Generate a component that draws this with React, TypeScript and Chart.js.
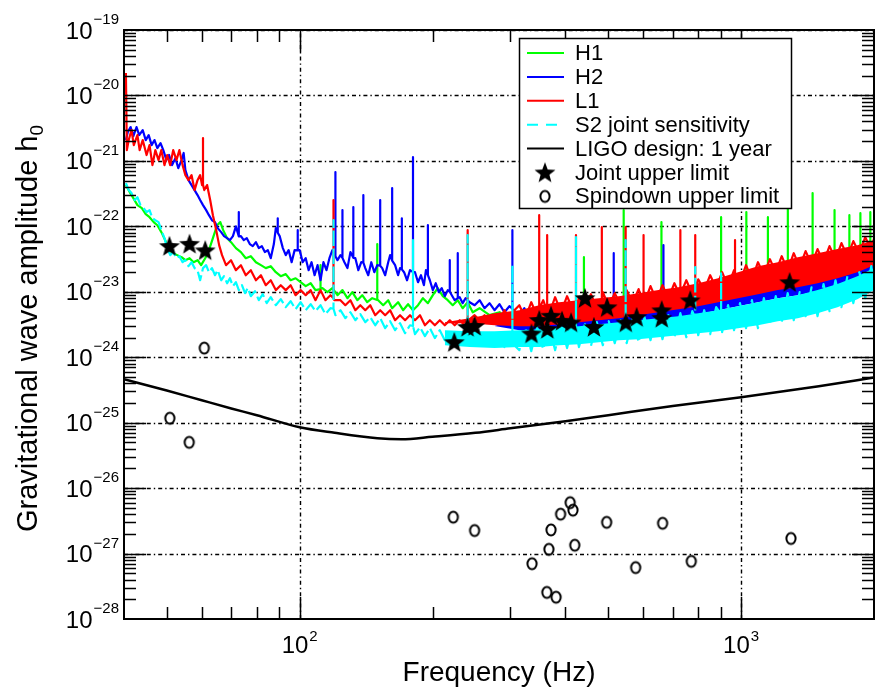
import React, { useEffect, useRef } from 'react';
import { Chart, registerables } from 'chart.js';

Chart.register(...registerables);

type P = [number, number];
type S = [number, number, number]; // [frequency, base, peak]

const FREQ_MIN = 40;
const FREQ_MAX = 2000;
const H_MIN = 1e-28;
const H_MAX = 1e-19;
const X_LABEL_DECADES: [number, string][] = [[100, '2'], [1000, '3']];
const Y_LABEL_EXPONENTS = [-19, -20, -21, -22, -23, -24, -25, -26, -27, -28];
const X_TITLE = 'Frequency (Hz)';
const Y_TITLE = 'Gravitational wave amplitude h';
const Y_TITLE_SUB = '0';
const LEGEND_LABELS = ['H1', 'H2', 'L1', 'S2 joint sensitivity', 'LIGO design: 1 year', 'Joint upper limit', 'Spindown upper limit'];

// ---------- H1 (green) ----------
const h1Base: P[] = [
  [40.4, 4.27e-22], [41.2, 3.34e-22], [42.0, 2.70e-22], [42.9, 2.11e-22], [43.9, 1.90e-22], [44.8, 1.53e-22],
  [45.7, 1.38e-22], [46.7, 1.16e-22], [47.6, 1.04e-22], [48.6, 8.16e-23], [49.6, 6.15e-23], [50.6, 4.33e-23],
  [51.7, 3.89e-23], [52.8, 3.63e-23], [54.0, 3.38e-23], [55.1, 3.04e-23], [56.3, 3.26e-23], [57.5, 2.83e-23],
  [58.7, 3.04e-23], [59.8, 2.55e-23], [61.1, 3.26e-23], [62.3, 4.33e-23], [63.6, 6.6e-23], [65.0, 1.04e-22],
  [66.1, 1.16e-22], [67.1, 8.75e-23], [68.5, 6.6e-23], [69.9, 5.73e-23], [71.7, 4.65e-23], [73.6, 4.04e-23],
  [75.5, 3.26e-23], [77.5, 3.50e-23], [79.6, 2.83e-23], [81.7, 2.55e-23], [83.8, 2.30e-23], [86.0, 2.46e-23],
  [88.3, 1.99e-23], [90.6, 1.73e-23], [93.0, 1.86e-23], [95.4, 1.50e-23], [97.9, 1.61e-23], [100.5, 1.40e-23],
  [103.2, 1.22e-23], [105.9, 1.35e-23], [108.6, 1.06e-23], [112.6, 1.14e-23], [115.6, 9.88e-24], [118.6, 1.14e-23],
  [121.8, 8.87e-24], [125.0, 1.06e-23], [128.3, 7.98e-24], [131.6, 9.88e-24], [135.1, 7.44e-24], [138.6, 8.87e-24],
  [142.2, 6.93e-24], [146.0, 7.98e-24], [150.6, 7.44e-24], [154.6, 6.24e-24], [158.7, 7.44e-24], [162.0, 5.61e-24],
  [167.1, 6.93e-24], [171.5, 5.23e-24], [176.0, 6.46e-24], [180.6, 5.23e-24], [185.4, 6.24e-24], [190.2, 7.98e-24],
  [195.2, 6.70e-24], [200.3, 8.87e-24], [205.5, 1.14e-23], [211.0, 8.56e-24], [216.5, 7.44e-24], [222.2, 6.24e-24],
  [228.1, 7.44e-24], [234.0, 5.61e-24], [240.2, 6.93e-24], [246.6, 4.87e-24], [255.6, 5.61e-24], [269.2, 4.39e-24],
  [283.5, 4.87e-24], [298.6, 3.68e-24], [314.5, 3.95e-24], [331.2, 3.08e-24], [358.0, 3.43e-24], [386.9, 2.87e-24],
  [418.2, 3.19e-24], [442.8, 2.97e-24], [476.1, 3.43e-24], [506.7, 3.19e-24], [544.8, 3.43e-24], [585.8, 3.68e-24],
  [623.4, 3.95e-24], [663.5, 4.24e-24], [720.8, 4.87e-24], [779.1, 5.23e-24], [842.1, 6.02e-24], [905.6, 6.46e-24],
  [958.8, 6.93e-24], [1031, 7.44e-24], [1092, 8.26e-24], [1156, 8.56e-24], [1211, 9.19e-24], [1283, 9.88e-24],
  [1365, 1.06e-23], [1460, 1.22e-23], [1538, 1.40e-23], [1636, 1.50e-23], [1697, 1.61e-23], [1768, 1.73e-23],
  [1873, 1.99e-23], [1972, 2.14e-23], [2000, 2.2e-23],
];
const h1Spikes: S[] = [
  [111.5, 1.1e-23, 2.55e-23], [149.9, 7.5e-24, 5.35e-23], [440.5, 3.2e-24, 3.38e-23], [542.0, 3.4e-24, 1.77e-22],
  [660.0, 4.2e-24, 1.16e-22], [900.9, 6.4e-24, 1.38e-22], [1026, 7.4e-24, 1.65e-22], [1150, 8.5e-24, 1.38e-22],
  [1276, 9.8e-24, 1.90e-22], [1452, 1.2e-23, 3.22e-22], [1628, 1.5e-23, 1.77e-22], [1759, 1.7e-23, 1.48e-22],
  [1863, 1.9e-23, 1.59e-22], [1962, 2.1e-23, 1.65e-22],
];

// ---------- H2 (blue) ----------
const h2Base: P[] = [
  [40.4, 2.08e-21], [40.8, 2.76e-21], [41.4, 3.29e-21], [42.0, 2.39e-21], [42.7, 3.29e-21], [43.3, 2.48e-21],
  [44.1, 2.96e-21], [44.8, 2.08e-21], [45.5, 2.48e-21], [46.2, 1.74e-21], [46.9, 2.08e-21], [47.6, 1.57e-21],
  [48.4, 1.87e-21], [49.1, 1.46e-21], [49.9, 1.03e-21], [50.6, 1.23e-21], [51.4, 8.62e-22], [52.3, 1.10e-21],
  [53.1, 7.76e-22], [54.0, 1.03e-21], [54.6, 1.32e-21], [55.1, 7.23e-22], [56.0, 5.08e-22], [56.9, 4.27e-22],
  [57.8, 3.58e-22], [58.7, 3.00e-22], [59.5, 2.52e-22], [60.4, 2.11e-22], [61.4, 1.77e-22], [62.3, 1.48e-22],
  [63.3, 1.24e-22], [64.3, 1.16e-22], [65.2, 9.39e-23], [66.4, 8.16e-23], [67.4, 7.09e-23], [68.5, 6.6e-23],
  [69.5, 6.15e-23], [70.6, 7.09e-23], [71.7, 1.00e-22], [73.6, 7.09e-23], [74.7, 6.15e-23], [75.9, 6.6e-23],
  [77.1, 5.35e-23], [78.3, 4.98e-23], [79.6, 5.73e-23], [80.8, 4.65e-23], [82.1, 4.98e-23], [83.4, 4.04e-23],
  [84.7, 4.33e-23], [86.0, 3.26e-23], [87.4, 5.35e-23], [88.3, 9.39e-23], [90.1, 7.09e-23], [91.6, 4.65e-23],
  [93.0, 3.63e-23], [94.4, 4.33e-23], [95.9, 2.83e-23], [97.4, 4.33e-23], [100, 4.33e-23], [101.6, 2.83e-23],
  [103.2, 3.26e-23], [104.8, 2.14e-23], [106.4, 2.83e-23], [108.1, 1.79e-23], [109.8, 2.55e-23], [111.5, 1.50e-23],
  [113.2, 2.83e-23], [115.0, 2.14e-23], [116.8, 3.26e-23], [118.6, 4.33e-23], [121.8, 3.04e-23], [123.7, 3.63e-23],
  [126.3, 2.83e-23], [128.3, 2.30e-23], [130.3, 4.04e-23], [133.7, 3.26e-23], [135.8, 2.14e-23], [137.9, 2.83e-23],
  [140.8, 2.30e-23], [143.0, 1.79e-23], [145.3, 2.83e-23], [147.6, 1.99e-23], [149.9, 2.55e-23], [153.8, 2.30e-23],
  [156.2, 1.79e-23], [158.7, 2.83e-23], [160.3, 3.63e-23], [164.5, 2.55e-23], [167.1, 1.79e-23], [168.8, 2.30e-23],
  [172.4, 1.99e-23], [175.1, 1.50e-23], [177.8, 2.14e-23], [182.5, 1.99e-23], [185.4, 1.40e-23], [188.3, 1.79e-23],
  [191.2, 1.26e-23], [193.2, 2.14e-23], [197.2, 1.50e-23], [200.3, 1.06e-23], [203.4, 1.35e-23], [206.6, 9.88e-24],
  [209.8, 1.14e-23], [213.2, 8.56e-24], [216.5, 1.06e-23], [221.1, 8.87e-24], [224.5, 7.44e-24], [230.4, 8.26e-24],
  [234.0, 6.70e-24], [237.7, 7.98e-24], [242.7, 6.93e-24], [249.1, 6.24e-24], [255.6, 7.44e-24], [262.3, 5.61e-24],
  [269.2, 6.70e-24], [276.3, 5.23e-24], [283.5, 6.46e-24], [291.0, 4.87e-24], [298.6, 6.02e-24], [304.9, 5.23e-24],
  [314.5, 4.39e-24], [322.8, 5.61e-24], [331.2, 3.95e-24], [339.9, 4.87e-24], [348.8, 3.43e-24], [367.4, 3.95e-24],
  [386.9, 2.97e-24], [407.5, 3.68e-24], [429.2, 2.78e-24], [452.0, 3.68e-24], [476.1, 2.97e-24], [501.4, 3.95e-24],
  [517.3, 3.43e-24], [542.0, 4.39e-24], [570.8, 3.68e-24], [601.2, 4.87e-24], [633.2, 3.95e-24], [670.4, 4.87e-24],
  [702.4, 4.39e-24], [739.8, 6.24e-24], [779.1, 5.23e-24], [820.6, 7.44e-24], [864.3, 6.02e-24], [910.3, 8.56e-24],
  [958.8, 6.93e-24], [1010, 9.88e-24], [1064, 7.98e-24], [1121, 1.14e-23], [1180, 9.19e-24], [1243, 1.31e-23],
  [1309, 1.06e-23], [1379, 1.50e-23], [1452, 1.22e-23], [1530, 1.73e-23], [1611, 1.45e-23], [1697, 1.99e-23],
  [1787, 1.73e-23], [1882, 2.46e-23], [2000, 2.14e-23],
];
const h2Spikes: S[] = [
  [72.8, 7.0e-23, 1.65e-22], [89.2, 8.0e-23, 1.33e-22], [99.0, 4.3e-23, 8.75e-23], [120.5, 3.5e-23, 6.74e-22],
  [125.0, 3.3e-23, 1.77e-22], [132.3, 3.3e-23, 1.97e-22], [139.4, 2.8e-23, 3.00e-22], [152.2, 2.5e-23, 2.52e-22],
  [162.0, 3.0e-23, 3.84e-22], [170.4, 2.2e-23, 1.33e-22], [180.6, 2.0e-23, 1.14e-21], [195.2, 1.8e-23, 1.04e-22],
  [218.8, 1.0e-23, 3.04e-23], [228.1, 8.0e-24, 3.89e-23], [303.3, 5.5e-24, 8.75e-23], [514.6, 3.7e-24, 3.89e-23],
  [666.9, 4.6e-24, 5.16e-23],
];

// ---------- L1 (red) ----------
const l1Base: P[] = [
  [40.4, 2.20e-20], [40.6, 1.46e-21], [41.0, 2.08e-21], [41.6, 2.96e-21], [42.1, 1.74e-21], [42.9, 2.48e-21],
  [43.4, 1.46e-21], [44.1, 2.08e-21], [45.0, 1.23e-21], [45.7, 1.74e-21], [46.4, 8.62e-22], [47.1, 1.46e-21],
  [47.9, 1.03e-21], [48.6, 1.46e-21], [49.4, 8.62e-22], [50.1, 1.23e-21], [50.9, 8.62e-22], [51.7, 1.46e-21],
  [52.6, 1.03e-21], [53.4, 1.46e-21], [54.3, 8.62e-22], [55.1, 6.06e-22], [56.0, 5.08e-22], [56.9, 6.06e-22],
  [57.8, 3.58e-22], [58.7, 5.08e-22], [59.5, 6.06e-22], [60.1, 4.27e-22], [60.8, 3.58e-22], [61.7, 4.27e-22],
  [62.7, 2.52e-22], [63.6, 1.48e-22], [64.7, 8.75e-23], [65.7, 5.16e-23], [66.7, 3.63e-23], [68.1, 2.55e-23],
  [69.9, 3.04e-23], [71.7, 2.14e-23], [73.6, 2.55e-23], [75.5, 1.79e-23], [77.5, 2.14e-23], [79.6, 1.50e-23],
  [81.7, 1.79e-23], [83.8, 1.26e-23], [86.0, 1.50e-23], [88.3, 1.06e-23], [90.6, 1.26e-23], [93.0, 1.06e-23],
  [95.4, 1.26e-23], [97.9, 8.87e-24], [100.5, 1.06e-23], [103.2, 8.87e-24], [105.9, 1.06e-23], [108.6, 7.44e-24],
  [111.5, 1.06e-23], [114.4, 7.44e-24], [117.4, 8.87e-24], [119.8, 7.44e-24], [123.7, 7.44e-24], [126.9, 6.24e-24],
  [130.3, 7.44e-24], [133.7, 5.23e-24], [137.2, 6.24e-24], [140.8, 5.23e-24], [144.5, 6.24e-24], [148.3, 4.39e-24],
  [152.2, 5.23e-24], [156.2, 4.39e-24], [160.3, 5.23e-24], [164.5, 3.68e-24], [168.8, 4.39e-24], [173.3, 3.68e-24],
  [177.8, 4.39e-24], [182.5, 3.68e-24], [187.3, 4.39e-24], [192.2, 3.08e-24], [197.2, 3.68e-24], [202.4, 3.08e-24],
  [207.7, 3.68e-24], [213.2, 3.08e-24], [218.8, 3.68e-24], [224.5, 3.08e-24], [230.4, 3.68e-24], [236.5, 3.08e-24],
  [241.4, 3.68e-24], [249.1, 4.39e-24], [255.6, 3.68e-24], [262.3, 4.39e-24], [269.2, 3.68e-24], [276.3, 4.39e-24],
  [283.5, 3.68e-24], [291.0, 5.23e-24], [298.6, 3.68e-24], [306.5, 5.23e-24],
  [314.5, 6.24e-24], [324.4, 3.95e-24], [334.7, 6.93e-24], [345.3, 4.24e-24], [356.2, 7.44e-24], [367.4, 4.55e-24],
  [379.0, 8.26e-24], [391.0, 4.87e-24], [403.4, 8.56e-24], [416.1, 5.23e-24], [429.2, 8.26e-24], [442.8, 5.42e-24],
  [456.8, 9.19e-24], [471.2, 5.61e-24], [486.1, 9.88e-24], [501.4, 6.02e-24], [517.3, 9.52e-24], [533.6, 6.24e-24],
  [550.5, 1.06e-23], [567.9, 6.70e-24], [585.8, 1.10e-23], [604.3, 6.93e-24], [623.4, 1.22e-23], [643.1, 7.44e-24],
  [663.5, 1.26e-23], [684.4, 7.98e-24], [706.1, 1.35e-23], [728.4, 8.56e-24], [751.4, 1.50e-23], [775.2, 9.19e-24],
  [799.6, 1.55e-23], [824.9, 1.06e-23], [851.0, 1.79e-23], [877.9, 1.14e-23], [905.6, 1.99e-23], [934.2, 1.22e-23],
  [963.8, 2.14e-23], [994.2, 1.40e-23], [1026, 2.55e-23], [1058, 1.55e-23], [1092, 2.83e-23], [1126, 1.79e-23],
  [1162, 3.15e-23], [1198, 1.99e-23], [1236, 3.50e-23], [1275, 2.14e-23], [1316, 3.89e-23], [1357, 2.38e-23],
  [1400, 4.18e-23], [1444, 2.64e-23], [1490, 4.49e-23], [1537, 2.83e-23], [1586, 4.98e-23], [1636, 3.15e-23],
  [1688, 5.54e-23], [1741, 3.50e-23], [1796, 5.94e-23], [1853, 3.89e-23], [1911, 6.84e-23], [1972, 4.33e-23],
  [2000, 6.60e-23],
];
const l1Spikes: S[] = [
  [60.4, 4.3e-22, 2.23e-21], [119.3, 8.0e-24, 2.52e-22], [240.2, 3.4e-24, 8.75e-23], [348.8, 5.5e-24, 1.48e-22],
  [363.6, 5.0e-24, 7.34e-23], [422.6, 5.0e-24, 7.34e-23], [483.6, 5.0e-24, 9.7e-23], [547.6, 6.0e-24, 9.7e-23],
  [601.2, 6.5e-24, 7.34e-23], [728.4, 9.0e-24, 8.75e-23], [787.2, 1.0e-23, 7.34e-23], [968.8, 1.4e-23, 6.15e-23],
];

// ---------- S2 joint sensitivity (cyan, dashed) ----------
const jointBase: P[] = [
  [40.4, 4.58e-22], [41.0, 3.58e-22], [41.6, 3.22e-22], [42.3, 2.52e-22], [42.9, 2.78e-22], [43.6, 2.11e-22],
  [44.3, 1.90e-22], [45.0, 1.65e-22], [45.7, 1.77e-22], [46.4, 1.33e-22], [47.1, 1.24e-22], [47.9, 1.16e-22],
  [48.6, 8.75e-23], [49.4, 6.6e-23], [50.1, 4.65e-23], [50.9, 3.63e-23], [51.7, 4.04e-23], [52.6, 3.26e-23],
  [53.4, 3.50e-23], [54.3, 2.83e-23], [55.1, 3.04e-23], [56.0, 2.46e-23], [56.9, 2.83e-23], [57.8, 2.30e-23],
  [58.7, 2.14e-23], [59.5, 1.50e-23], [60.4, 2.30e-23], [61.4, 2.55e-23], [62.3, 1.99e-23], [63.3, 2.30e-23],
  [64.3, 1.79e-23], [65.2, 2.14e-23], [66.4, 1.50e-23], [67.4, 1.73e-23], [68.5, 1.35e-23], [69.5, 1.61e-23],
  [70.6, 1.22e-23], [71.7, 1.40e-23], [72.8, 1.06e-23], [74.0, 1.26e-23], [75.2, 9.52e-24], [76.3, 1.14e-23],
  [77.5, 8.56e-24], [79.2, 1.02e-23], [80.8, 7.44e-24], [82.5, 9.19e-24], [84.2, 6.70e-24], [86.0, 8.26e-24],
  [88.3, 6.24e-24], [90.6, 7.71e-24], [93.0, 5.82e-24], [95.4, 7.18e-24], [97.9, 5.42e-24], [100.5, 6.93e-24],
  [103.2, 5.23e-24], [105.9, 6.46e-24], [108.6, 5.05e-24], [111.5, 6.24e-24], [114.4, 4.55e-24], [117.4, 5.61e-24],
  [120.5, 4.39e-24], [123.7, 5.23e-24], [126.9, 3.95e-24], [130.3, 4.87e-24], [133.7, 3.68e-24], [137.2, 4.55e-24],
  [140.8, 3.43e-24], [144.5, 4.09e-24], [148.3, 3.08e-24], [152.2, 3.95e-24], [156.2, 2.78e-24], [160.3, 3.55e-24],
  [164.5, 2.59e-24], [168.8, 3.31e-24], [173.3, 2.33e-24], [177.8, 3.08e-24], [182.5, 2.25e-24], [187.3, 2.87e-24],
  [192.2, 2.10e-24], [197.2, 2.78e-24], [202.4, 1.96e-24], [207.7, 2.59e-24], [213.2, 1.82e-24], [218.8, 2.41e-24],
  [224.5, 1.64e-24], [230.4, 2.33e-24], [236.5, 1.58e-24], [242.7, 2.17e-24], [249.1, 1.48e-24], [255.6, 2.10e-24],
  [262.3, 1.53e-24], [269.2, 2.25e-24], [276.3, 1.48e-24], [283.5, 2.17e-24], [291.0, 1.43e-24], [298.6, 2.25e-24],
  [306.5, 1.53e-24],
  [314.5, 1.28e-24], [324.4, 2.78e-24], [334.7, 1.24e-24], [345.3, 2.87e-24], [356.2, 1.33e-24], [367.4, 2.97e-24],
  [379.0, 1.28e-24], [391.0, 3.08e-24], [403.4, 1.38e-24], [416.1, 3.19e-24], [429.2, 1.43e-24], [442.8, 3.19e-24],
  [456.8, 1.48e-24], [471.2, 3.43e-24], [486.1, 1.53e-24], [501.4, 3.55e-24], [517.3, 1.64e-24], [533.6, 3.68e-24],
  [550.5, 1.64e-24], [567.9, 3.95e-24], [585.8, 1.70e-24], [604.3, 4.09e-24], [623.4, 1.82e-24], [643.1, 4.24e-24],
  [663.5, 1.89e-24], [684.4, 4.39e-24], [706.1, 2.02e-24], [728.4, 4.71e-24], [751.4, 2.02e-24], [775.2, 5.05e-24],
  [799.6, 2.17e-24], [824.9, 5.23e-24], [851.0, 2.25e-24], [877.9, 5.82e-24], [905.6, 2.41e-24], [934.2, 6.24e-24],
  [963.8, 2.59e-24], [994.2, 6.70e-24], [1026, 2.78e-24], [1058, 7.44e-24], [1092, 2.78e-24], [1126, 7.98e-24],
  [1162, 3.19e-24], [1198, 8.56e-24], [1236, 3.43e-24], [1275, 9.52e-24], [1316, 3.68e-24], [1357, 9.88e-24],
  [1400, 4.24e-24], [1444, 1.17e-23], [1490, 4.24e-24], [1537, 1.31e-23], [1586, 5.05e-24], [1636, 1.50e-23],
  [1688, 5.82e-24], [1741, 1.73e-23], [1796, 6.70e-24], [1853, 1.99e-23], [1911, 7.98e-24], [1972, 2.46e-23],
  [2000, 9.88e-24],
];
const jointSpikes: S[] = [
  [119.3, 5.5e-24, 1.24e-22], [180.6, 3.0e-24, 6.15e-23], [240.2, 2.0e-24, 7.34e-23], [303.3, 2.0e-24, 2.55e-23],
  [422.6, 2.5e-24, 6.84e-23], [547.6, 2.5e-24, 6.15e-23], [787.2, 4.0e-24, 2.38e-23], [900.9, 4.5e-24, 1.92e-23],
];

// ---------- dense noise bands at high frequency ----------
const bandFreqs = [213.2, 242.7, 276.3, 314.5, 348.8, 386.9, 429.2, 476.1, 528.1, 585.8, 649.8, 720.8, 799.6, 887.0, 984.0, 1092, 1211, 1344, 1490, 1653, 1834, 2000];
const l1BandTop = [3.43e-24, 3.95e-24, 4.71e-24, 5.23e-24, 6.24e-24, 6.93e-24, 7.44e-24, 7.98e-24, 8.56e-24, 9.52e-24, 1.06e-23, 1.17e-23, 1.35e-23, 1.61e-23, 1.99e-23, 2.46e-23, 2.83e-23, 3.38e-23, 3.89e-23, 4.49e-23, 5.16e-23, 6.15e-23];
const l1BandBottom = [3.31e-24, 3.31e-24, 3.08e-24, 2.97e-24, 2.97e-24, 3.19e-24, 3.43e-24, 3.68e-24, 3.95e-24, 4.39e-24, 4.87e-24, 5.42e-24, 6.02e-24, 6.93e-24, 7.98e-24, 9.19e-24, 1.06e-23, 1.17e-23, 1.35e-23, 1.61e-23, 1.99e-23, 2.55e-23];
const h2BandTop = [3.0e-24, 3.0e-24, 3.0e-24, 3.95e-24, 3.43e-24, 3.55e-24, 3.81e-24, 4.09e-24, 4.39e-24, 4.87e-24, 5.42e-24, 6.02e-24, 6.70e-24, 7.71e-24, 8.87e-24, 1.02e-23, 1.17e-23, 1.31e-23, 1.50e-23, 1.79e-23, 2.22e-23, 2.83e-23];
const h2BandBottom = [3.0e-24, 3.0e-24, 3.0e-24, 2.59e-24, 2.33e-24, 2.41e-24, 2.59e-24, 2.78e-24, 2.97e-24, 3.43e-24, 3.68e-24, 4.09e-24, 4.55e-24, 5.23e-24, 6.02e-24, 6.93e-24, 7.98e-24, 8.87e-24, 1.02e-23, 1.22e-23, 1.55e-23, 2.07e-23];
const jointBandTop = [2.59e-24, 2.50e-24, 2.50e-24, 2.59e-24, 2.68e-24, 2.87e-24, 2.97e-24, 3.19e-24, 3.43e-24, 3.68e-24, 3.95e-24, 4.24e-24, 4.71e-24, 5.23e-24, 6.02e-24, 6.93e-24, 7.98e-24, 8.87e-24, 1.06e-23, 1.31e-23, 1.73e-23, 2.30e-23];
const jointBandBottom = [1.53e-24, 1.43e-24, 1.38e-24, 1.43e-24, 1.43e-24, 1.53e-24, 1.58e-24, 1.70e-24, 1.82e-24, 1.89e-24, 2.02e-24, 2.17e-24, 2.33e-24, 2.50e-24, 2.78e-24, 3.08e-24, 3.55e-24, 3.95e-24, 4.71e-24, 5.82e-24, 7.71e-24, 1.06e-23];

// ---------- LIGO design: 1 year ----------
const ligoDesign: P[] = [
  [40, 4.6e-25], [50, 3.1e-25], [60, 2.2e-25], [70, 1.65e-25], [80, 1.3e-25], [100, 8.5e-26], [120, 7.0e-26],
  [150, 5.8e-26], [170, 5.6e-26], [200, 6.1e-26], [250, 7.0e-26], [300, 8.2e-26], [400, 1.05e-25], [500, 1.3e-25],
  [700, 1.8e-25], [1000, 2.45e-25], [1500, 3.6e-25], [2000, 4.9e-25],
];

// ---------- pulsar limits ----------
const jointUpperLimits: P[] = [
  [50.7, 5.0e-23], [56.3, 5.4e-23], [61.1, 4.3e-23], [224, 1.7e-24], [240, 2.9e-24], [249, 3.0e-24], [335, 2.3e-24],
  [349, 3.7e-24], [364, 2.7e-24], [371, 4.3e-24], [393, 3.6e-24], [412, 3.4e-24], [443, 8.0e-24], [464, 2.9e-24],
  [497, 5.8e-24], [548, 3.4e-24], [580, 4.1e-24], [661, 5.2e-24], [661, 4.0e-24], [767, 7.4e-24], [1288, 1.4e-23],
];
const spindownUpperLimits: P[] = [
  [50.8, 1.17e-25], [56.2, 5.0e-26], [60.8, 1.38e-24], [222.8, 3.6e-27], [249, 2.25e-27], [336, 7.0e-28],
  [363, 2.55e-28], [367, 1.16e-27], [371, 2.3e-27], [381, 2.15e-28], [390, 4.0e-27], [410, 6.0e-27], [416, 4.6e-27],
  [420, 1.34e-27], [496, 3.0e-27], [577, 6.1e-28], [664, 2.9e-27], [771, 7.6e-28], [1297, 1.7e-27],
];

const GREEN = '#00ff00';
const BLUE = '#0000ff';
const RED = '#ff0000';
const CYAN = '#00ffff';
const FONT = '"Liberation Sans", Arial, Helvetica, sans-serif';

function buildTrace(base: P[], spikes: S[]) {
  const groups: { f: number; pts: P[] }[] = [];
  base.forEach(([f, h]) => groups.push({ f, pts: [[f, h]] }));
  spikes.forEach(([f, b, p]) => groups.push({ f, pts: [[f, b], [f, p], [f, b]] }));
  groups.sort((a, b) => a.f - b.f);
  const out: { x: number; y: number }[] = [];
  groups.forEach((g) => g.pts.forEach(([x, y]) => out.push({ x, y })));
  return out;
}
const toXY = (arr: P[]) => arr.map(([x, y]) => ({ x, y }));
const band = (vals: number[]) => bandFreqs.map((f, i) => ({ x: f, y: vals[i] }));

function makeStar(r: number) {
  const c = document.createElement('canvas');
  const s = Math.ceil(r * 2 + 2);
  c.width = s; c.height = s;
  const g = c.getContext('2d')!;
  g.translate(s / 2, s / 2 + 0.8);
  g.beginPath();
  for (let i = 0; i < 10; i++) {
    const rad = i % 2 === 0 ? r : r * 0.42;
    const a = -Math.PI / 2 + (i * Math.PI) / 5;
    g.lineTo(rad * Math.cos(a), rad * Math.sin(a));
  }
  g.closePath();
  g.fillStyle = '#000';
  g.fill();
  return c;
}
function makeRing(rx: number, ry: number) {
  const c = document.createElement('canvas');
  const w = Math.ceil(rx * 2 + 4), h = Math.ceil(ry * 2 + 4);
  c.width = w; c.height = h;
  const g = c.getContext('2d')!;
  g.beginPath();
  g.ellipse(w / 2, h / 2, rx, ry, 0, 0, Math.PI * 2);
  g.lineWidth = 2;
  g.strokeStyle = '#000';
  g.stroke();
  return c;
}

function drawTickLabel10(ctx: CanvasRenderingContext2D, xRight: number, yMid: number, exp: string) {
  ctx.textAlign = 'right';
  ctx.textBaseline = 'alphabetic';
  ctx.font = `15px ${FONT}`;
  const w = ctx.measureText(exp).width;
  ctx.fillText(exp, xRight, yMid - 6);
  ctx.font = `24px ${FONT}`;
  ctx.fillText('10', xRight - w - 1, yMid + 8.5);
}

let starImg: HTMLCanvasElement;
let ringImg: HTMLCanvasElement;

const decoPlugin = {
  id: 'ligoDeco',
  beforeDatasetsDraw(chart: any) {
    const { ctx, chartArea: a, scales } = chart;
    const xs = scales.x, ys = scales.y;
    ctx.save();
    ctx.beginPath();
    ctx.rect(a.left, a.top, a.right - a.left, a.bottom - a.top);
    ctx.clip();
    ctx.strokeStyle = '#000';
    ctx.lineWidth = 1.4;
    ctx.setLineDash([4, 3, 1.4, 3]);
    X_LABEL_DECADES.forEach(([v]) => {
      const px = Math.round(xs.getPixelForValue(v)) + 0.5;
      ctx.beginPath(); ctx.moveTo(px, a.bottom); ctx.lineTo(px, a.top); ctx.stroke();
    });
    Y_LABEL_EXPONENTS.forEach((e) => {
      const py = Math.round(ys.getPixelForValue(Math.pow(10, e))) + 0.5;
      ctx.beginPath(); ctx.moveTo(a.left, py); ctx.lineTo(a.right, py); ctx.stroke();
    });
    ctx.restore();
  },
  afterDatasetsDraw(chart: any) {
    const { ctx, chartArea: a, scales } = chart;
    const xs = scales.x, ys = scales.y;
    ctx.save();
    ctx.setLineDash([]);
    ctx.strokeStyle = '#000';
    ctx.lineWidth = 1.5;
    for (let d = 10; d <= 1000; d *= 10) {
      for (let m = 1; m <= 9; m++) {
        const v = m * d;
        if (v <= FREQ_MIN || v >= FREQ_MAX) continue;
        const px = Math.round(xs.getPixelForValue(v)) + 0.5;
        const len = m === 1 ? 22 : 12;
        ctx.beginPath();
        ctx.moveTo(px, a.bottom); ctx.lineTo(px, a.bottom - len);
        ctx.moveTo(px, a.top); ctx.lineTo(px, a.top + len);
        ctx.stroke();
      }
    }
    for (let e = -28; e <= -20; e++) {
      for (let m = 1; m <= 9; m++) {
        const v = m * Math.pow(10, e);
        if (v <= H_MIN * 1.0001 || v >= H_MAX * 0.9999) continue;
        const py = Math.round(ys.getPixelForValue(v)) + 0.5;
        const len = m === 1 ? 22 : 12;
        ctx.beginPath();
        ctx.moveTo(a.left, py); ctx.lineTo(a.left + len, py);
        ctx.moveTo(a.right, py); ctx.lineTo(a.right - len, py);
        ctx.stroke();
      }
    }
    ctx.lineWidth = 2;
    ctx.strokeRect(a.left, a.top, a.right - a.left, a.bottom - a.top);

    ctx.fillStyle = '#000';
    Y_LABEL_EXPONENTS.forEach((e) => {
      const py = ys.getPixelForValue(Math.pow(10, e));
      drawTickLabel10(ctx, a.left - 5, py, '\u2212' + Math.abs(e));
    });
    X_LABEL_DECADES.forEach(([v, exp]) => {
      const px = xs.getPixelForValue(v);
      ctx.font = `24px ${FONT}`;
      const w10 = ctx.measureText('10').width;
      ctx.font = `15px ${FONT}`;
      const we = ctx.measureText(exp).width;
      const x0 = px - (w10 + we + 1) / 2;
      ctx.textAlign = 'left';
      ctx.textBaseline = 'alphabetic';
      ctx.font = `24px ${FONT}`;
      ctx.fillText('10', x0, 653);
      ctx.font = `15px ${FONT}`;
      ctx.fillText(exp, x0 + w10 + 1, 641);
    });

    ctx.font = `28px ${FONT}`;
    ctx.textAlign = 'center';
    ctx.textBaseline = 'alphabetic';
    ctx.fillText(X_TITLE, (a.left + a.right) / 2, 681);

    ctx.save();
    const cy = (a.top + a.bottom) / 2 + 4;
    ctx.translate(37, cy);
    ctx.rotate(-Math.PI / 2);
    ctx.font = `29px ${FONT}`;
    const w1 = ctx.measureText(Y_TITLE).width;
    ctx.font = `19px ${FONT}`;
    const w2 = ctx.measureText(Y_TITLE_SUB).width;
    const start = -(w1 + w2) / 2;
    ctx.textAlign = 'left';
    ctx.font = `29px ${FONT}`;
    ctx.fillText(Y_TITLE, start, 0);
    ctx.font = `19px ${FONT}`;
    ctx.fillText(Y_TITLE_SUB, start + w1, 6);
    ctx.restore();

    const lx0 = 519, ly0 = 38, lx1 = 791, ly1 = 208;
    ctx.fillStyle = '#fff';
    ctx.fillRect(lx0, ly0, lx1 - lx0, ly1 - ly0);
    ctx.strokeStyle = '#000';
    ctx.lineWidth = 1.5;
    ctx.strokeRect(lx0 + 0.5, ly0 + 0.5, lx1 - lx0, ly1 - ly0);
    const colors = [GREEN, BLUE, RED, CYAN, '#000'];
    LEGEND_LABELS.forEach((label, i) => {
      const yy = 53 + i * 23.9;
      if (i < 5) {
        ctx.save();
        ctx.strokeStyle = colors[i];
        ctx.lineWidth = 2;
        if (i === 3) ctx.setLineDash([11, 8]);
        ctx.beginPath(); ctx.moveTo(527, yy); ctx.lineTo(564, yy); ctx.stroke();
        ctx.restore();
      } else if (i === 5) {
        ctx.drawImage(starImg, 545 - starImg.width / 2, yy - starImg.height / 2);
      } else {
        ctx.drawImage(ringImg, 545 - ringImg.width / 2, yy - ringImg.height / 2);
      }
      ctx.fillStyle = '#000';
      ctx.font = `22px ${FONT}`;
      ctx.textAlign = 'left';
      ctx.textBaseline = 'middle';
      ctx.fillText(label, 575, yy + 1);
    });
    ctx.restore();
  },
};

export default function App() {
  const ref = useRef<HTMLCanvasElement | null>(null);
  useEffect(() => {
    document.body.style.margin = '0';
    starImg = makeStar(11);
    ringImg = makeRing(4.6, 5.6);
    const lineBase = { pointRadius: 0, fill: false, tension: 0, borderJoinStyle: 'round' as const, spanGaps: true };
    const bandBase = { pointRadius: 0, borderWidth: 0, borderColor: 'rgba(0,0,0,0)', tension: 0 };
    const chart = new Chart(ref.current!, {
      type: 'line',
      data: {
        datasets: [
          { ...lineBase, label: 'H1', data: buildTrace(h1Base, h1Spikes), borderColor: GREEN, borderWidth: 2.2, order: 9 },
          { ...bandBase, label: 'H2 band top', data: band(h2BandTop), backgroundColor: BLUE, fill: '+1', order: 8 },
          { ...bandBase, label: 'H2 band bottom', data: band(h2BandBottom), fill: false, order: 8 },
          { ...lineBase, label: 'H2', data: buildTrace(h2Base, h2Spikes), borderColor: BLUE, borderWidth: 2.2, order: 7 },
          { ...bandBase, label: 'L1 band top', data: band(l1BandTop), backgroundColor: RED, fill: '+1', order: 6 },
          { ...bandBase, label: 'L1 band bottom', data: band(l1BandBottom), fill: false, order: 6 },
          { ...lineBase, label: 'L1', data: buildTrace(l1Base, l1Spikes), borderColor: RED, borderWidth: 2.2, order: 5 },
          { ...bandBase, label: 'S2 band top', data: band(jointBandTop), backgroundColor: CYAN, fill: '+1', order: 4 },
          { ...bandBase, label: 'S2 band bottom', data: band(jointBandBottom), fill: false, order: 4 },
          { ...lineBase, label: 'S2 joint sensitivity', data: buildTrace(jointBase, jointSpikes), borderColor: CYAN, borderWidth: 2.2, borderDash: [14, 4], order: 3 },
          { ...lineBase, label: 'LIGO design: 1 year', data: toXY(ligoDesign), borderColor: '#000', borderWidth: 2.5, cubicInterpolationMode: 'monotone', order: 2 },
          { label: 'Spindown upper limit', data: toXY(spindownUpperLimits), showLine: false, pointStyle: ringImg, pointRadius: 5, order: 1 },
          { label: 'Joint upper limit', data: toXY(jointUpperLimits), showLine: false, pointStyle: starImg, pointRadius: 5, order: 0 },
        ] as any,
      },
      options: {
        animation: false,
        responsive: false,
        events: [],
        layout: { padding: { left: 124, top: 30, right: 4, bottom: 72 } },
        scales: {
          x: { type: 'logarithmic', min: FREQ_MIN, max: FREQ_MAX, display: false },
          y: { type: 'logarithmic', min: H_MIN, max: H_MAX, display: false },
        },
        plugins: { legend: { display: false }, tooltip: { enabled: false } },
      },
      plugins: [decoPlugin],
    });
    return () => chart.destroy();
  }, []);
  return (
    <div style={{ width: 880, height: 691, background: '#fff' }}>
      <canvas ref={ref} width={880} height={691} style={{ display: 'block' }} />
    </div>
  );
}
